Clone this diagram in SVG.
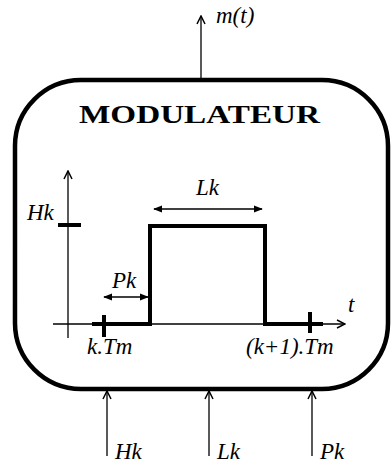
<svg xmlns="http://www.w3.org/2000/svg" width="391" height="465" viewBox="0 0 391 465">
<style>
.it{font-family:"Liberation Serif","Times New Roman",serif;font-style:italic;font-size:23px;fill:#000}
.ttl{font-family:"Liberation Serif","Times New Roman",serif;font-weight:bold;font-size:25px;fill:#000}
.thin{stroke:#000;stroke-width:1.3;fill:none}
.thick{stroke:#000;stroke-width:4;fill:none}
.tick{stroke:#000;stroke-width:4;fill:none}
</style>
<defs>
<marker id="open" viewBox="0 0 10 10" refX="9" refY="5" markerWidth="10" markerHeight="10" markerUnits="userSpaceOnUse" orient="auto-start-reverse">
<path d="M1,1 L9,5 L1,9" fill="none" stroke="#000" stroke-width="1.5"/>
</marker>
<marker id="solid" viewBox="0 0 10 10" refX="9" refY="5" markerWidth="9" markerHeight="9" markerUnits="userSpaceOnUse" orient="auto-start-reverse">
<path d="M0,1 L10,5 L0,9 Z" fill="#000"/>
</marker>
</defs>
<g id="modulateur">
<rect x="15" y="80" width="373" height="309" rx="66" ry="66" fill="none" stroke="#000" stroke-width="4.5"/>
<text class="ttl" x="79" y="123" textLength="241" lengthAdjust="spacingAndGlyphs">MODULATEUR</text>
</g>
<g id="plot">
<line class="thin" x1="68" y1="338" x2="68" y2="171" marker-end="url(#open)"/>
<line class="thin" x1="53" y1="324" x2="345" y2="324" marker-end="url(#open)"/>
<text class="it" x="348" y="312">t</text>
<line class="tick" x1="58" y1="225" x2="81" y2="225"/>
<text class="it" x="27" y="220">Hk</text>
<polyline class="thick" points="92,324 150,324 150,226 265,226 265,324 323,324"/>
<line class="tick" x1="104" y1="315" x2="104" y2="337"/>
<line class="tick" x1="310" y1="312" x2="310" y2="333"/>
<line stroke="#000" stroke-width="1.5" x1="104" y1="297" x2="148" y2="297" marker-start="url(#solid)" marker-end="url(#solid)"/>
<text class="it" x="112" y="288">Pk</text>
<line stroke="#000" stroke-width="1.5" x1="154" y1="209" x2="262" y2="209" marker-start="url(#solid)" marker-end="url(#solid)"/>
<text class="it" x="196" y="195">Lk</text>
<text class="it" x="87" y="354">k.Tm</text>
<text class="it" x="246" y="354">(k+1).Tm</text>
</g>
<g id="connectors">
<line class="thin" x1="201" y1="80" x2="201" y2="16" marker-end="url(#open)"/>
<line class="thin" x1="107" y1="456" x2="107" y2="391" marker-end="url(#open)"/>
<line class="thin" x1="209" y1="456" x2="209" y2="391" marker-end="url(#open)"/>
<line class="thin" x1="312" y1="456" x2="312" y2="391" marker-end="url(#open)"/>
</g>
<g id="labels">
<text class="it" x="216" y="23">m(t)</text>
<text class="it" x="115" y="459">Hk</text>
<text class="it" x="217" y="459">Lk</text>
<text class="it" x="320" y="459">Pk</text>
</g>
</svg>
